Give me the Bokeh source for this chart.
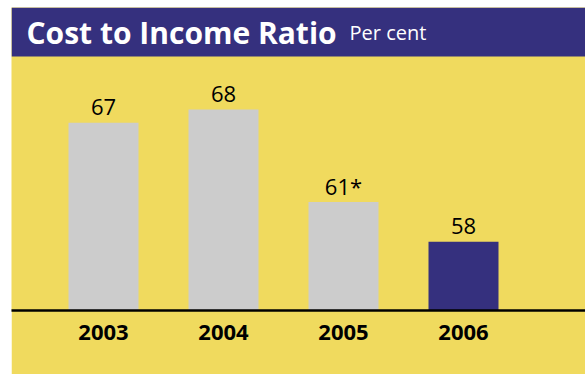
from bokeh.plotting import figure
from bokeh.models import ColumnDataSource, FixedTicker, BoxAnnotation, Label, Range1d
from bokeh.embed import file_html
from bokeh.resources import INLINE
from bokeh.core.properties import value

# ---- data ----
years = ["2003", "2004", "2005", "2006"]
ratio = [67, 68, 61, 58]
value_labels = ["67", "68", "61*", "58"]

# ---- style ----
NAVY = "#35307E"
YELLOW = "#F0DA5E"
GREY = "#CCCCCC"
bar_colors = [GREY, GREY, GREY, NAVY]

W, H = 574, 367
AXIS_H = 64
frame_h = H - AXIS_H
slot_px = 120.0
x_start = -92.0 / slot_px
x_end = x_start + W / slot_px
px_per_unit = 13.22
y_start = 52.8
y_end = y_start + frame_h / px_per_unit

idx = list(range(len(years)))
src = ColumnDataSource(dict(x=idx, top=ratio, lab=value_labels, color=bar_colors))

p = figure(width=W, height=H, output_backend="svg", toolbar_location=None,
           x_range=Range1d(x_start, x_end), y_range=Range1d(y_start, y_end),
           y_axis_location=None, min_border_left=0, min_border_right=0,
           min_border_top=0, min_border_bottom=AXIS_H, margin=(7, 0, 0, 11))
p.background_fill_color = YELLOW
p.border_fill_color = YELLOW
p.outline_line_color = None
p.grid.visible = False

p.vbar(x="x", top="top", bottom=y_start, width=70 / slot_px, color="color",
       line_color=None, source=src)
p.text(x="x", y="top", text="lab", source=src, text_align="center",
       text_baseline="alphabetic", y_offset=-16, text_font=value("Open Sans"),
       text_font_size="22px", text_color="black")

# header band
header_bottom = y_start + (303 - 49) / px_per_unit
p.add_layout(BoxAnnotation(bottom=header_bottom, fill_color=NAVY, fill_alpha=1.0,
                           line_color=None, level="underlay"))
title_y = y_start + (303 - 25) / px_per_unit
p.add_layout(Label(x=x_start + 15 / slot_px, y=title_y, text="Cost to Income Ratio",
                   text_font="Open Sans", text_font_style="bold",
                   text_font_size="30px", text_color="white",
                   text_baseline="alphabetic"))
p.add_layout(Label(x=x_start + 338 / slot_px, y=title_y, text="Per cent",
                   text_font="Open Sans", text_font_size="20px", text_color="white",
                   text_baseline="alphabetic"))

ax = p.xaxis[0]
ax.ticker = FixedTicker(ticks=idx)
ax.major_label_overrides = {i: y for i, y in zip(idx, years)}
ax.major_tick_line_color = None
ax.minor_tick_line_color = None
ax.axis_line_color = "black"
ax.axis_line_width = 2.5
ax.major_label_standoff = 8
ax.major_label_text_font = "Open Sans"
ax.major_label_text_font_style = "bold"
ax.major_label_text_font_size = "22px"
ax.major_label_text_color = "black"

open("out.html", "w").write(file_html(p, INLINE))
